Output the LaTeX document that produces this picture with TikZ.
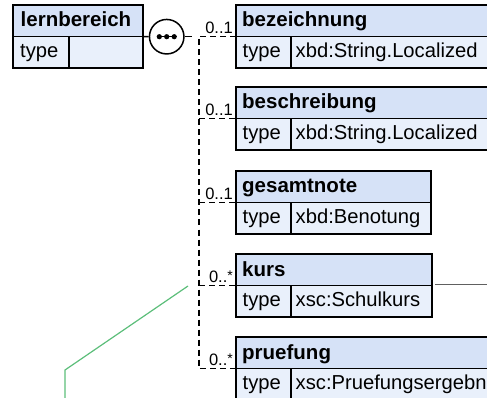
\documentclass[tikz,border=0pt]{standalone}
\usepackage{fontspec}
\setmainfont{Liberation Sans}
\usetikzlibrary{calc}
\definecolor{hdrfill}{RGB}{214,226,247}
\definecolor{rowfill}{RGB}{233,240,251}
\definecolor{linkgreen}{RGB}{92,190,122}
\definecolor{linkgray}{RGB}{96,96,96}
\begin{document}
\begin{tikzpicture}[x=1pt,y=-1pt,
  box/.style={draw=black, line width=1.6pt, inner sep=0, outer sep=0, anchor=north west, minimum height=31.5pt},
  hdr/.style={box, fill=hdrfill},
  rowc/.style={box, fill=rowfill},
  ttl/.style={anchor=base west, inner sep=0, font=\fontsize{20.5}{21}\selectfont\bfseries},
  txt/.style={anchor=base west, inner sep=0, font=\fontsize{20.2}{21}\selectfont},
  mult/.style={anchor=base east, inner sep=0, font=\fontsize{16.5}{17}\selectfont},
  seq/.style={draw=black, dash pattern=on 6pt off 4pt, line width=1.3pt},
  dotn/.style={circle, fill=black, inner sep=0, minimum size=5.2pt}
]
\useasboundingbox (0,0) rectangle (487,398);
\clip (0,0) rectangle (487,398);

% lernbereich
\node[hdr, minimum width=130pt] (lernH) at (13,5) {};
\node[rowc, minimum width=56pt] (lernT) at (13,36.5) {};
\node[rowc, minimum width=74pt] (lernV) at (69,36.5) {};
\node[ttl] (lernN) at (20.5,27) {lernbereich};
\node[txt] (lernTy) at (20,57.5) {type};

% sequence compositor
\node[circle, draw=black, line width=1.5pt, fill=white, minimum size=34.5pt, inner sep=0] (seqC) at (166.7,36.7) {};
\draw[line width=1.3pt] (seqC.center) ++(-10,0) -- ++(20,0);
\node[dotn] (d1) at (159.3,36.7) {};
\node[dotn] (d2) at (166.7,36.7) {};
\node[dotn] (d3) at (174.2,36.7) {};
\draw[line width=1.5pt] (lernH.south east) -- (seqC.west);
\coordinate (stub) at (192,36.7);
\draw[line width=1.5pt] (seqC.east) -- (stub);

% bezeichnung
\node[hdr, minimum width=270pt] (bezH) at (236,5) {};
\node[rowc, minimum width=55pt] (bezT) at (236,36.5) {};
\node[rowc, minimum width=215pt] (bezV) at (291,36.5) {};
\node[ttl] (bezN) at (242,27) {bezeichnung};
\node[txt] (bezTy) at (242.5,57.5) {type};
\node[txt] (bezVa) at (295.5,57.5) {xbd:String.Localized};

% beschreibung
\node[hdr, minimum width=270pt] (besH) at (236,87) {};
\node[rowc, minimum width=55pt] (besT) at (236,118.5) {};
\node[rowc, minimum width=215pt] (besV) at (291,118.5) {};
\node[ttl] (besN) at (242,109) {beschreibung};
\node[txt] (besTy) at (242.5,139.5) {type};
\node[txt] (besVa) at (295.5,139.5) {xbd:String.Localized};

% gesamtnote
\node[hdr, minimum width=195pt] (gesH) at (236,171) {};
\node[rowc, minimum width=55pt] (gesT) at (236,202.5) {};
\node[rowc, minimum width=140pt] (gesV) at (291,202.5) {};
\node[ttl] (gesN) at (242,193) {gesamtnote};
\node[txt] (gesTy) at (242.5,223.5) {type};
\node[txt] (gesVa) at (295.5,223.5) {xbd:Benotung};

% kurs
\node[hdr, minimum width=196pt] (kurH) at (236,254) {};
\node[rowc, minimum width=55pt] (kurT) at (236,285.5) {};
\node[rowc, minimum width=141pt] (kurV) at (291,285.5) {};
\node[ttl] (kurN) at (242,276) {kurs};
\node[txt] (kurTy) at (242.5,306.5) {type};
\node[txt] (kurVa) at (295.5,306.5) {xsc:Schulkurs};

% pruefung
\node[hdr, minimum width=270pt] (pruH) at (236,337) {};
\node[rowc, minimum width=55pt] (pruT) at (236,368.5) {};
\node[rowc, minimum width=215pt] (pruV) at (291,368.5) {};
\node[ttl] (pruN) at (242,359) {pruefung};
\node[txt] (pruTy) at (242.5,389.5) {type};
\node[txt] (pruVa) at (295.5,389.5) {xsc:Pruefungsergebnis};

% sequence branches
\coordinate (sp) at (199,36.5);
\draw[seq] (bezH.south west) -- (sp) -- (sp |- pruH.south west) -- (pruH.south west);
\draw[seq] (sp |- besH.south west) -- (besH.south west);
\draw[seq] (sp |- gesH.south west) -- (gesH.south west);
\draw[seq] (sp |- kurH.south west) -- (kurH.south west);

% multiplicities
\node[mult] (m1) at (233,33.5) {0..1};
\node[mult] (m2) at (233,115.5) {0..1};
\node[mult] (m3) at (233,199.5) {0..1};
\node[mult] (m4) at (233,282.5) {0..\raisebox{2.5pt}{\fontsize{14}{14}\selectfont *}};
\node[mult] (m5) at (233,365.5) {0..\raisebox{2.5pt}{\fontsize{14}{14}\selectfont *}};

% outgoing gray link from kurs
\coordinate (gEnd) at (495,284.5);
\draw[linkgray, line width=1.5pt] ($(kurH.south east)+(3,-1)$) -- (gEnd);

% green link
\coordinate (g1) at (188,286);
\coordinate (g2) at (65,370);
\coordinate (g3) at (65,402);
\draw[linkgreen, line width=1.2pt] (g1) -- (g2) -- (g3);
\end{tikzpicture}
\end{document}
